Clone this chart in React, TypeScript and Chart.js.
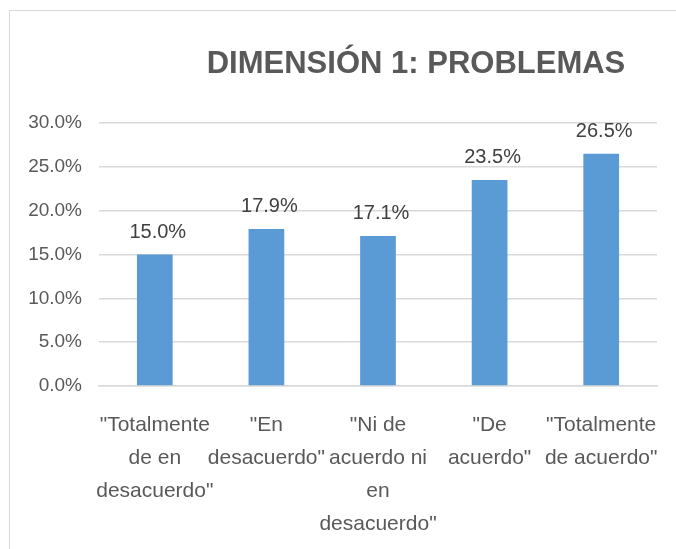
import React, { useEffect, useRef } from "react";
import { Chart, registerables } from "chart.js";

Chart.register(...registerables);

const TITLE = "DIMENSIÓN 1: PROBLEMAS";
const categories: string[][] = [
  ['"Totalmente', "de en", 'desacuerdo"'],
  ['"En', 'desacuerdo"'],
  ['"Ni de', "acuerdo ni", "en", 'desacuerdo"'],
  ['"De', 'acuerdo"'],
  ['"Totalmente', 'de acuerdo"'],
];
const values: number[] = [15.0, 17.9, 17.1, 23.5, 26.5];
const yMin = 0;
const yMax = 30;
const yStep = 5;

const FONT = "'Liberation Sans', Arial, sans-serif";

const dataLabelPlugin = {
  id: "dataLabels",
  afterDatasetsDraw(chart: any) {
    const ctx = chart.ctx;
    const meta = chart.getDatasetMeta(0);
    ctx.save();
    ctx.font = `20px ${FONT}`;
    ctx.fillStyle = "#404040";
    ctx.textAlign = "center";
    ctx.textBaseline = "alphabetic";
    meta.data.forEach((bar: any, i: number) => {
      const v = chart.data.datasets[0].data[i] as number;
      ctx.fillText(v.toFixed(1) + "%", bar.x + 3, bar.y - 17);
    });
    ctx.restore();
  },
};

const titlePlugin = {
  id: "customTitle",
  afterDraw(chart: any) {
    const ctx = chart.ctx;
    ctx.save();
    ctx.font = `bold 31px ${FONT}`;
    ctx.fillStyle = "#595959";
    ctx.textAlign = "center";
    ctx.textBaseline = "alphabetic";
    ctx.fillText(TITLE, 416, 73);
    ctx.restore();
  },
};

export default function App() {
  const canvasRef = useRef<HTMLCanvasElement | null>(null);

  useEffect(() => {
    document.body.style.margin = "0";
    if (!canvasRef.current) return;
    const chart = new Chart(canvasRef.current, {
      type: "bar",
      data: {
        labels: categories,
        datasets: [
          {
            data: values,
            backgroundColor: "#5B9BD5",
            borderWidth: 0,
            categoryPercentage: 1,
            barPercentage: 0.32,
          },
        ],
      },
      options: {
        animation: false,
        responsive: false,
        maintainAspectRatio: false,
        devicePixelRatio: 1,
        layout: { padding: { left: 0, right: 19, top: 123, bottom: 0 } },
        plugins: {
          legend: { display: false },
          title: { display: false },
          tooltip: { enabled: false },
        },
        scales: {
          x: {
            grid: { display: false, drawTicks: false },
            border: { display: true, color: "#d9d9d9", width: 1.5 },
            ticks: {
              autoSkip: false,
              maxRotation: 0,
              minRotation: 0,
              padding: 23,
              color: "#595959",
              font: { family: FONT, size: 21, lineHeight: 1.57 },
            },
            afterFit(scale: any) {
              scale.height = 549 - 386;
              scale.paddingLeft = 0;
              scale.paddingRight = 0;
            },
          },
          y: {
            min: yMin,
            max: yMax,
            grid: { color: "#d9d9d9", lineWidth: 1.5, drawTicks: false },
            border: { display: false },
            ticks: {
              stepSize: yStep,
              padding: 17,
              color: "#595959",
              font: { family: FONT, size: 19 },
              callback: (v: any) => Number(v).toFixed(1) + "%",
            },
            afterFit(scale: any) {
              scale.width = 99;
              scale.paddingTop = 0;
              scale.paddingBottom = 0;
            },
          },
        },
      },
      plugins: [dataLabelPlugin, titlePlugin],
    });
    return () => chart.destroy();
  }, []);

  return (
    <div style={{ position: "relative", width: 676, height: 549, overflow: "hidden", background: "#fff" }}>
      <div
        style={{
          position: "absolute",
          left: 9,
          top: 10,
          width: 800,
          height: 700,
          borderLeft: "1.5px solid #d9d9d9",
          borderTop: "1.5px solid #d9d9d9",
        }}
      />
      <canvas
        ref={canvasRef}
        width={676}
        height={549}
        style={{ position: "absolute", left: 0, top: 0, width: 676, height: 549 }}
      />
    </div>
  );
}
